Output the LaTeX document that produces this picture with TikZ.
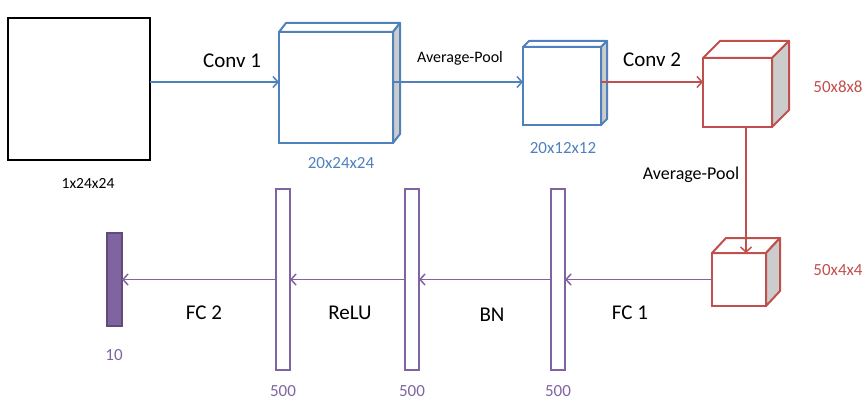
\documentclass[tikz,border=0pt]{standalone}
\usepackage{fontspec}
\setmainfont{Carlito}
\usetikzlibrary{arrows.meta,positioning}
\definecolor{convblue}{RGB}{79,129,189}
\definecolor{poolred}{RGB}{192,80,77}
\definecolor{fcpurple}{RGB}{128,100,162}
\definecolor{sidegray}{RGB}{204,204,204}
% top and side faces of a cube drawn behind a front node
\newcommand{\cubefaces}[4]{%
  \draw[#4,line width=2pt,line join=round,fill=white] (#1.north west) -- ([shift={(#2,-#3)}]#1.north west) -- ([shift={(#2,-#3)}]#1.north east) -- (#1.north east) -- cycle;
  \draw[#4,line width=2pt,line join=round,fill=sidegray] (#1.north east) -- ([shift={(#2,-#3)}]#1.north east) -- ([shift={(#2,-#3)}]#1.south east) -- (#1.south east) -- cycle;
}

\begin{document}
\begin{tikzpicture}[x=1pt,y=-1pt,
    inbox/.style={draw=black,line width=2.5pt,fill=white,outer sep=0pt,minimum width=142pt,minimum height=142pt},
    cube/.style={draw=#1,line width=2pt,fill=white,outer sep=0pt,inner sep=0pt},
    bar/.style={draw=fcpurple,line width=2pt,fill=white,outer sep=0pt,inner sep=0pt,minimum width=14pt,minimum height=181pt},
    outbar/.style={bar,draw=fcpurple!75!black,fill=fcpurple,minimum width=15pt,minimum height=93pt},
    layer/.style={font=\fontsize{21}{21}\selectfont,inner sep=0pt},
    pool/.style={font=\fontsize{16}{16}\selectfont,inner sep=0pt},
    dims/.style={font=\fontsize{17}{17}\selectfont,inner sep=0pt,text=#1},
    conn/.style={line width=1.5pt,-{Straight Barb[length=5pt,width=11pt]}}
]
\useasboundingbox (0,0) rectangle (865,404);

% input image
\node[inbox] (input) at (79,89) {};
\node[dims=black,font=\fontsize{15.5}{15.5}\selectfont] (inputdim) at (88,183) {1x24x24};

% conv / pool feature maps
\node[cube=convblue,minimum width=114pt,minimum height=111pt] (conv1) at (336,87.5) {};
\cubefaces{conv1}{7}{9}{convblue}
\node[dims=convblue] (conv1dim) at (341,163) {20x24x24};

\node[cube=convblue,minimum width=78pt,minimum height=78pt] (pool1) at (562,86) {};
\cubefaces{pool1}{6}{6}{convblue}
\node[dims=convblue] (pool1dim) at (563,148) {20x12x12};

\node[cube=poolred,minimum width=69pt,minimum height=69pt] (conv2) at (737.5,92.5) {};
\cubefaces{conv2}{17}{17}{poolred}
\node[dims=poolred] (conv2dim) at (838,87) {50x8x8};

\node[cube=poolred,minimum width=54pt,minimum height=53pt] (pool2) at (739,279.5) {};
\cubefaces{pool2}{14}{15}{poolred}
\node[dims=poolred] (pool2dim) at (838,270) {50x4x4};

% fully connected part
\node[bar] (fc1) at (558,279.5) {};
\node[bar] (bn) at (412,279.5) {};
\node[bar] (relu) at (283,279.5) {};
\node[outbar] (out) at (114.5,279.5) {};
\node[dims=fcpurple] (fc1dim) at (558,391) {500};
\node[dims=fcpurple] (bndim) at (412,391) {500};
\node[dims=fcpurple] (reludim) at (283,391) {500};
\node[dims=fcpurple] (outdim) at (114,355) {10};

% connectors
\draw[conn,convblue] ([yshift=5.5pt]conv1.west -| input.east) -- ([yshift=5.5pt]conv1.west);
\draw[conn,convblue] ([yshift=4pt]pool1.west -| conv1.east) -- ([yshift=4pt]pool1.west);
\draw[conn,poolred] ([yshift=10.5pt]conv2.west -| pool1.east) -- ([yshift=10.5pt]conv2.west);
\coordinate (drop) at ([xshift=8.5pt]conv2.south);
\draw[conn,poolred] (drop) -- (drop |- pool2.north);
\draw[conn,fcpurple] (pool2.west) -- (fc1.east);
\draw[conn,fcpurple] (fc1.west) -- (bn.east);
\draw[conn,fcpurple] (bn.west) -- (relu.east);
\draw[conn,fcpurple] (relu.west) -- (out.east);

% layer labels
\node[layer] (conv1lbl) at (232,61) {Conv 1};
\node[pool] (pool1lbl) at (460,58) {Average-Pool};
\node[layer] (conv2lbl) at (652,60) {Conv 2};
\node[pool,font=\fontsize{18}{18}\selectfont] (pool2lbl) at (691,175) {Average-Pool};
\node[layer] (fc1lbl) at (630,313) {FC 1};
\node[layer] (bnlbl) at (492,315) {BN};
\node[layer] (relulbl) at (350,313) {ReLU};
\node[layer] (fc2lbl) at (204,313) {FC 2};
\end{tikzpicture}
\end{document}
